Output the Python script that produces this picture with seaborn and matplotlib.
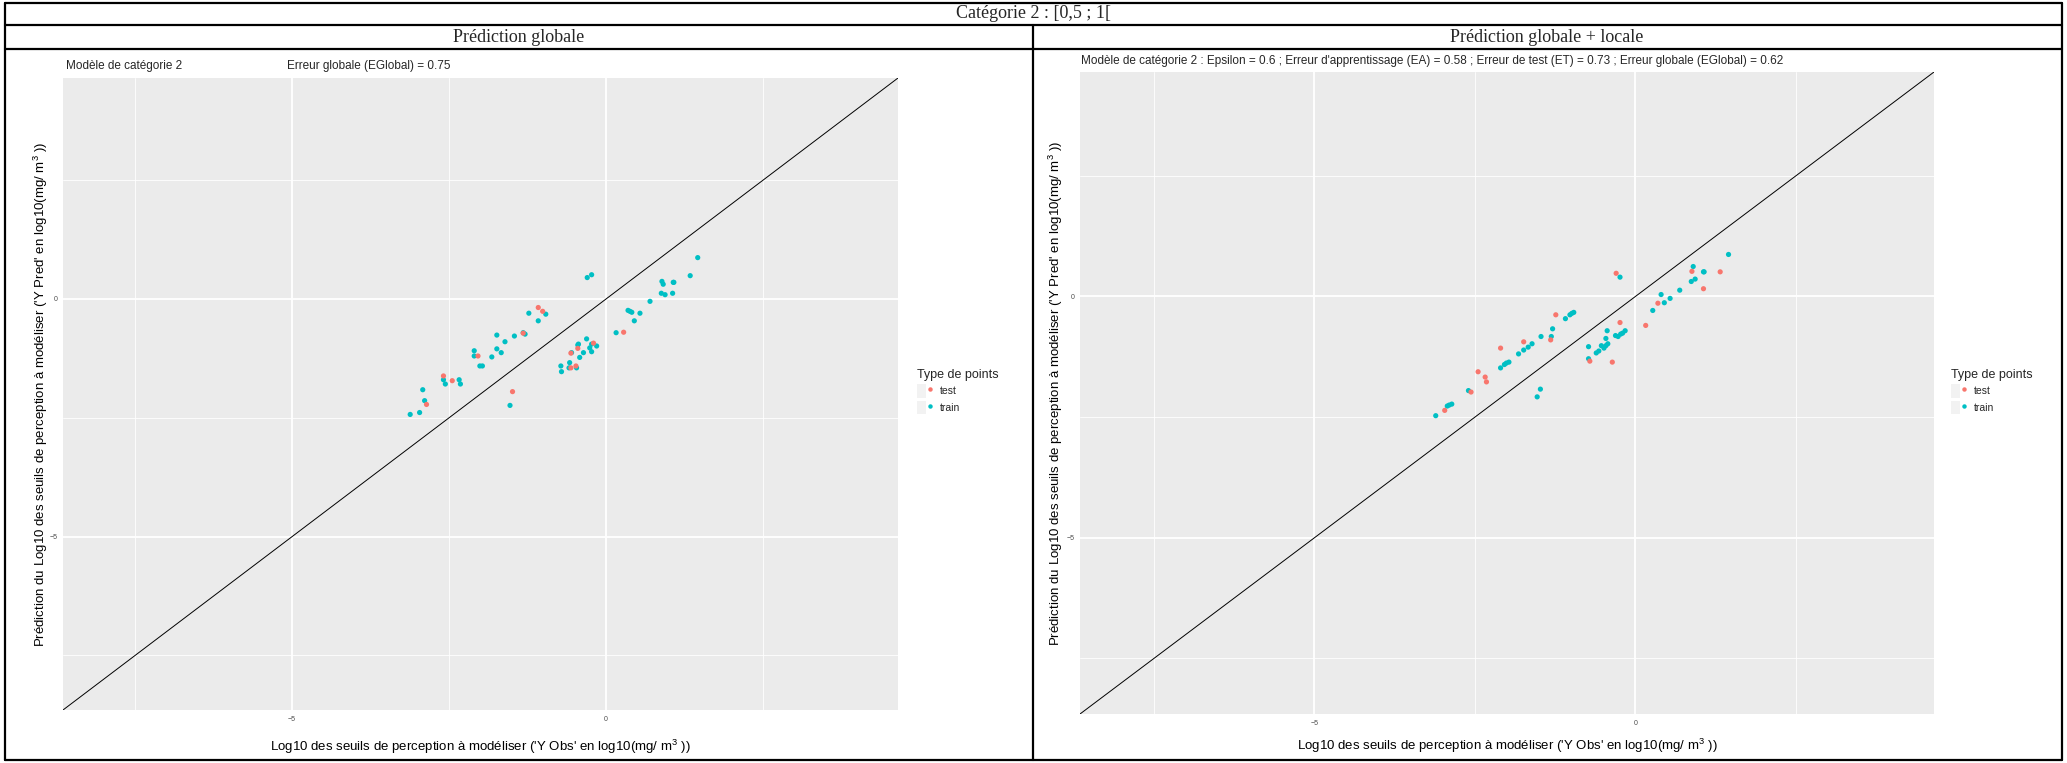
import pandas as pd
import matplotlib.pyplot as plt
import seaborn as sns
from matplotlib.lines import Line2D
from matplotlib.patches import Patch
from matplotlib.legend_handler import HandlerTuple

# 1. DATA (log10 mg/m3)
glob_train_obs = [-3.12, -2.97, -2.92, -2.89, -2.59, -2.56, -2.34, -2.32, -2.10, -2.10,
                  -2.01, -1.97, -1.82, -1.74, -1.74, -1.67, -1.61, -1.46, -1.32, -1.29,
                  -1.23, -1.08, -0.96, -1.53, -0.72, -0.71, -0.59, -0.58, -0.55, -0.47,
                  -0.45, -0.44, -0.42, -0.36, -0.31, -0.26, -0.23, -0.23, -0.15, -0.30,
                  -0.23, 0.16, 0.35, 0.38, 0.41, 0.45, 0.54, 0.70, 0.88, 0.89,
                  0.91, 0.94, 1.06, 1.07, 1.08, 1.34, 1.46]
glob_train_pred = [-2.43, -2.39, -1.91, -2.14, -1.70, -1.79, -1.70, -1.79, -1.09, -1.20,
                   -1.41, -1.41, -1.22, -0.76, -1.05, -1.13, -0.90, -0.78, -0.71, -0.74,
                   -0.30, -0.46, -0.32, -2.24, -1.41, -1.53, -1.45, -1.34, -1.13, -1.45,
                   -0.97, -0.95, -1.23, -1.13, -0.84, -1.03, -0.95, -1.11, -0.99, 0.45,
                   0.51, -0.71, -0.24, -0.26, -0.28, -0.46, -0.30, -0.05, 0.12, 0.37,
                   0.31, 0.09, 0.12, 0.35, 0.35, 0.49, 0.87]
glob_test_obs = [-2.86, -2.59, -2.45, -2.04, -1.49, -1.32, -1.08, -1.01, -0.56, -0.45,
                 -0.56, -0.48, -0.20, 0.28]
glob_test_pred = [-2.22, -1.62, -1.72, -1.20, -1.95, -0.72, -0.18, -0.26, -1.14, -1.04,
                  -1.45, -1.41, -0.93, -0.70]

loc_train_obs = [-3.11, -2.93, -2.90, -2.86, -2.60, -2.10, -2.04, -2.01, -1.97, -1.82,
                 -1.74, -1.67, -1.61, -1.47, -1.31, -1.29, -1.09, -1.02, -0.99, -0.96,
                 -1.53, -1.48, -0.73, -0.73, -0.61, -0.57, -0.53, -0.49, -0.46, -0.43,
                 -0.46, -0.44, -0.31, -0.27, -0.23, -0.20, -0.16, -0.24, 0.27, 0.40,
                 0.45, 0.54, 0.69, 0.87, 0.90, 0.93, 1.06, 1.07, 1.45]
loc_train_pred = [-2.47, -2.27, -2.25, -2.23, -1.95, -1.48, -1.41, -1.38, -1.36, -1.19,
                  -1.11, -1.05, -0.98, -0.83, -0.83, -0.67, -0.46, -0.38, -0.35, -0.33,
                  -2.08, -1.92, -1.04, -1.29, -1.17, -1.13, -1.02, -1.07, -1.02, -0.98,
                  -0.87, -0.71, -0.81, -0.83, -0.78, -0.76, -0.71, 0.40, -0.29, 0.04,
                  -0.13, -0.04, 0.13, 0.31, 0.62, 0.36, 0.51, 0.51, 0.87]
loc_test_obs = [-2.97, -2.56, -2.45, -2.34, -2.32, -2.10, -1.74, -1.32, -1.24, -0.71,
                -0.36, -0.30, -0.24, 0.16, 0.35, 0.88, 1.06, 1.32]
loc_test_pred = [-2.36, -1.98, -1.56, -1.67, -1.77, -1.07, -0.94, -0.90, -0.38, -1.34,
                 -1.36, 0.48, -0.54, -0.60, -0.14, 0.52, 0.16, 0.51]

point_types = ['test', 'train']
palette = {'test': '#F8766D', 'train': '#00BFC4'}

main_title = 'Catégorie 2 : [0,5 ; 1['
col_titles = ['Prédiction globale', 'Prédiction globale + locale']
xlab = "Log10 des seuils de perception à modéliser ('Y Obs' en log10(mg/ m$^{3}$ ))"
ylab = "Prédiction du Log10 des seuils de perception à modéliser ('Y Pred' en log10(mg/ m$^{3}$ ))"


def make_df(tr_x, tr_y, te_x, te_y):
    d1 = pd.DataFrame({'obs': tr_x, 'pred': tr_y, 'type': 'train'})
    d2 = pd.DataFrame({'obs': te_x, 'pred': te_y, 'type': 'test'})
    return pd.concat([d1, d2], ignore_index=True)


df_glob = make_df(glob_train_obs, glob_train_pred, glob_test_obs, glob_test_pred)
df_loc = make_df(loc_train_obs, loc_train_pred, loc_test_obs, loc_test_pred)

# 2. FIGURE
sns.set_theme(style='white')
plt.rcParams['font.family'] = ['Liberation Sans', 'DejaVu Sans']
plt.rcParams['mathtext.default'] = 'regular'

W, H = 2067, 763
fig = plt.figure(figsize=(W / 100, H / 100), dpi=100)
fig.patch.set_facecolor('white')


def fx(px):
    return px / W


def fy(py):
    return 1 - py / H


def panel(box, df, lab_dx, lab_dy):
    x0, y0, x1, y1 = box
    ax = fig.add_axes([fx(x0), fy(y1), (x1 - x0) / W, (y1 - y0) / H])
    ax.set_facecolor('#EBEBEB')
    ax.set_xlim(-8.65, 4.65)
    ax.set_ylim(-8.65, 4.65)
    ax.set_xticks([-5, 0])
    ax.set_yticks([-5, 0])
    ax.set_xticks([-7.5, -2.5, 2.5], minor=True)
    ax.set_yticks([-7.5, -2.5, 2.5], minor=True)
    ax.grid(which='major', color='white', lw=1.3)
    ax.grid(which='minor', color='white', lw=0.6)
    ax.set_axisbelow(True)
    ax.axline((0, 0), slope=1, color='black', lw=0.7, zorder=2)
    sns.scatterplot(data=df, x='obs', y='pred', hue='type', hue_order=point_types,
                    palette=palette, s=14, linewidth=0, legend=False, ax=ax, zorder=3)
    for s in ax.spines.values():
        s.set_visible(False)
    ax.tick_params(which='major', length=2.5, width=0.6, color='#333333',
                   labelsize=5, labelcolor='#4D4D4D', pad=1.5)
    ax.tick_params(which='minor', length=0)
    ax.set_xlabel(xlab, fontsize=9.5, color='black')
    ax.set_ylabel(ylab, fontsize=9.5, color='black')
    ax.xaxis.set_label_coords(0.5, lab_dy)
    ax.yaxis.set_label_coords(lab_dx, 0.5)
    return ax


ax1 = panel((63, 78, 898, 710), df_glob, -0.016, -0.044)
ax2 = panel((1080, 72, 1934, 714), df_loc, -0.018, -0.035)

# subtitles of each R plot
fig.text(fx(66), fy(66), 'Modèle de catégorie 2', fontsize=8.5, va='center')
fig.text(fx(287), fy(66), 'Erreur globale (EGlobal) = 0.75', fontsize=8.5, va='center')
fig.text(fx(1081), fy(61),
         "Modèle de catégorie 2 : Epsilon = 0.6 ; Erreur d'apprentissage (EA) = 0.58 ; "
         "Erreur de test (ET) = 0.73 ; Erreur globale (EGlobal) = 0.62",
         fontsize=8.5, va='center')

# legends
for lx in (912, 1946):
    handles = [(Patch(facecolor='#F2F2F2', edgecolor='none'),
                Line2D([], [], marker='o', ls='', color=palette[t], markersize=3.2,
                       markeredgewidth=0)) for t in point_types]
    leg = fig.legend(handles, point_types, title='Type de points', loc='upper left',
                     bbox_to_anchor=(fx(lx), fy(364)), frameon=False,
                     handler_map={tuple: HandlerTuple(ndivide=None)},
                     fontsize=7.5, title_fontsize=9, handlelength=1.6, handleheight=1.6,
                     handletextpad=0.6, labelspacing=0.3, borderpad=0)
    leg._legend_box.align = 'left'

# 3. TABLE FRAME AND HEADERS
def hline(y, xa, xb):
    fig.add_artist(Line2D([fx(xa), fx(xb)], [fy(y), fy(y)], color='black', lw=1.6))


def vline(x, ya, yb):
    fig.add_artist(Line2D([fx(x), fx(x)], [fy(ya), fy(yb)], color='black', lw=1.6))


for y in (3, 25, 49, 760):
    hline(y, 5, 2062)
vline(5, 3, 760)
vline(2062, 3, 760)
vline(1033, 25, 760)

fig.text(fx(1034), fy(14), main_title, fontsize=13, ha='center', va='center',
         family=['Liberation Serif', 'DejaVu Serif'])
fig.text(fx(519), fy(37), col_titles[0], fontsize=13, ha='center', va='center',
         family=['Liberation Serif', 'DejaVu Serif'])
fig.text(fx(1547), fy(37), col_titles[1], fontsize=13, ha='center', va='center',
         family=['Liberation Serif', 'DejaVu Serif'])

fig.savefig('out.png', dpi=100)
